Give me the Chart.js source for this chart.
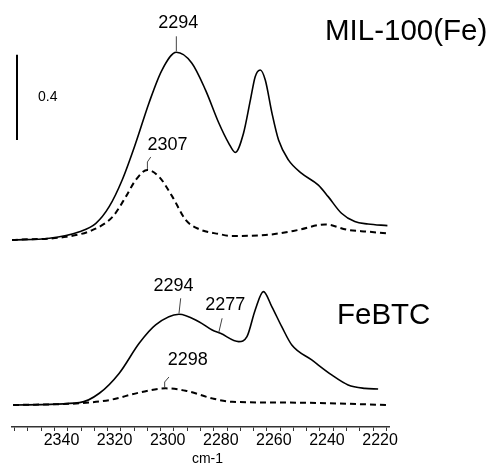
<!DOCTYPE html>
<html>
<head>
<meta charset="utf-8">
<script src="https://cdn.jsdelivr.net/npm/chart.js@4"></script>
<style>
  html, body { margin: 0; padding: 0; background: #fff; }
  #wrap { width: 489px; height: 466px; }
</style>
</head>
<body>
<div id="wrap"><canvas id="spectra"></canvas></div>
<script>
// Wavenumbers (cm-1) and absorbance (offset)
const milSolidX = [2356.1, 2341.9, 2330.6, 2324.4, 2319.4, 2314.5, 2309.4, 2304.4, 2299.5, 2294.1, 2288.3, 2283.1, 2278.1, 2274.4, 2271.9, 2268.8, 2266.2, 2264.4, 2262.5, 2260.6, 2258.1, 2255.6, 2251.9, 2246.9, 2240.6, 2236.9, 2231.9, 2226.9, 2221.9, 2214.6];
const milSolidY = [0.876, 0.884, 0.915, 0.954, 1.032, 1.157, 1.330, 1.518, 1.672, 1.755, 1.705, 1.578, 1.424, 1.330, 1.286, 1.376, 1.532, 1.641, 1.672, 1.625, 1.471, 1.344, 1.251, 1.188, 1.133, 1.079, 1.001, 0.962, 0.951, 0.943];

const milDashX = [2356.1, 2335.6, 2325.6, 2318.1, 2313.1, 2309.4, 2305.0, 2300.6, 2295.6, 2290.6, 2285.6, 2278.1, 2273.3, 2260.6, 2248.1, 2238.1, 2229.4, 2221.9, 2215.0];
const milDashY = [0.876, 0.891, 0.923, 0.985, 1.079, 1.157, 1.204, 1.172, 1.079, 0.970, 0.927, 0.904, 0.895, 0.899, 0.923, 0.949, 0.923, 0.915, 0.907];

const febtcSolidX = [2355.6, 2330.6, 2323.1, 2315.6, 2308.1, 2301.9, 2293.1, 2285.6, 2280.6, 2277.5, 2270.6, 2267.5, 2264.4, 2261.3, 2258.1, 2254.4, 2250.6, 2243.1, 2235.6, 2229.4, 2223.1, 2218.1];
const febtcSolidY = [0.103, 0.114, 0.158, 0.252, 0.392, 0.478, 0.528, 0.493, 0.454, 0.439, 0.400, 0.423, 0.548, 0.634, 0.563, 0.470, 0.384, 0.314, 0.244, 0.197, 0.181, 0.178];

const febtcDashX = [2355.6, 2330.6, 2319.4, 2308.1, 2298.1, 2290.6, 2280.6, 2273.1, 2248.1, 2214.6];
const febtcDashY = [0.103, 0.111, 0.126, 0.161, 0.181, 0.170, 0.134, 0.118, 0.114, 0.103];

// Tick labels on the wavenumber axis
const tickValues = [2340, 2320, 2300, 2280, 2260, 2240, 2220];

// Peak annotations
const peakText = ['2294', '2307', '2294', '2277', '2298'];
const peakX = [2294.1, 2305.0, 2293.1, 2278.1, 2298.5];
const peakY = [1.755, 1.204, 0.528, 0.439, 0.178];

const sampleNames = ['MIL-100(Fe)', 'FeBTC'];
const scaleBarValue = 0.4;

function toPoints(xs, ys) {
    return xs.map((x, i) => ({ x: x, y: ys[i] }));
}

// pixel offsets for each annotation: text centre and leader line path
const peakStyle = [
    { dx: 2, dy: -29, path: [[0, -1], [0, -16]] },
    { dx: 20, dy: -25, path: [[0, -1], [0, -8], [3.4, -13]] },
    { dx: -5.5, dy: -28.5, path: [[0, -1], [1.7, -16]] },
    { dx: 6.5, dy: -28, path: [[0, -1], [3.3, -15]] },
    { dx: 23, dy: -28.5, path: [[0, -1], [0, -7], [4.3, -12]] }
];

const FONT = '"Liberation Sans", Arial, sans-serif';

const decorations = {
    id: 'decorations',
    afterDatasetsDraw(chart) {
        const ctx = chart.ctx;
        const xs = chart.scales.x;
        const ys = chart.scales.y;
        ctx.save();
        ctx.fillStyle = '#000';
        ctx.textAlign = 'center';
        ctx.textBaseline = 'middle';

        // peak labels with leader lines
        peakText.forEach((t, i) => {
            const px = xs.getPixelForValue(peakX[i]);
            const py = ys.getPixelForValue(peakY[i]);
            const st = peakStyle[i];
            ctx.strokeStyle = '#444';
            ctx.lineWidth = 1;
            ctx.beginPath();
            st.path.forEach((p, k) => {
                if (k === 0) ctx.moveTo(px + p[0], py + p[1]);
                else ctx.lineTo(px + p[0], py + p[1]);
            });
            ctx.stroke();
            ctx.font = '18px ' + FONT;
            ctx.fillText(t, px + st.dx, py + st.dy);
        });

        // sample names
        ctx.textAlign = 'left';
        ctx.font = '29.5px ' + FONT;
        ctx.fillText(sampleNames[0], 325, 32);
        ctx.fillText(sampleNames[1], 337, 316);

        // scale bar
        const y0 = ys.getPixelForValue(1.344);
        const y1 = ys.getPixelForValue(1.344 + scaleBarValue);
        ctx.strokeStyle = '#000';
        ctx.lineWidth = 2;
        ctx.beginPath();
        ctx.moveTo(17, y0);
        ctx.lineTo(17, y1);
        ctx.stroke();
        ctx.font = '14px ' + FONT;
        ctx.fillText(String(scaleBarValue), 38, (y0 + y1) / 2);

        // axis title
        ctx.textAlign = 'center';
        ctx.font = '14px ' + FONT;
        ctx.fillText('cm-1', 207.5, 459);
        ctx.restore();
    }
};

const ctx = document.getElementById('spectra').getContext('2d');
new Chart(ctx, {
    type: 'line',
    data: {
        datasets: [
            { label: 'MIL-100(Fe)', data: toPoints(milSolidX, milSolidY), borderColor: '#000', borderWidth: 1.6 },
            { label: 'MIL-100(Fe) dashed', data: toPoints(milDashX, milDashY), borderColor: '#000', borderWidth: 2, borderDash: [6, 4] },
            { label: 'FeBTC', data: toPoints(febtcSolidX, febtcSolidY), borderColor: '#000', borderWidth: 1.6 },
            { label: 'FeBTC dashed', data: toPoints(febtcDashX, febtcDashY), borderColor: '#000', borderWidth: 2, borderDash: [6, 4] }
        ]
    },
    options: {
        responsive: true,
        maintainAspectRatio: false,
        animation: false,
        layout: { padding: { left: 12, right: 100, top: 0, bottom: 0 } },
        elements: {
            point: { radius: 0 },
            line: { cubicInterpolationMode: 'monotone', fill: false }
        },
        plugins: {
            legend: { display: false },
            tooltip: { enabled: false }
        },
        scales: {
            x: {
                type: 'linear',
                reverse: true,
                min: 2214,
                max: 2356,
                afterFit: (s) => { s.height = 39; },
                afterBuildTicks: (s) => {
                    const t = [];
                    for (let v = 2215; v <= 2355; v += 5) t.push({ value: v });
                    s.ticks = t;
                },
                border: { display: true, color: '#333', width: 1.5 },
                grid: { drawOnChartArea: false, tickLength: 4, color: '#333' },
                ticks: {
                    autoSkip: false,
                    maxRotation: 0,
                    padding: 0,
                    labelOffset: 7,
                    color: '#000',
                    font: { family: FONT, size: 16 },
                    callback: (v) => tickValues.includes(v) ? String(v) : ''
                }
            },
            y: {
                display: false,
                min: 0,
                max: 2.0
            }
        }
    },
    plugins: [decorations]
});
</script>
</body>
</html>
